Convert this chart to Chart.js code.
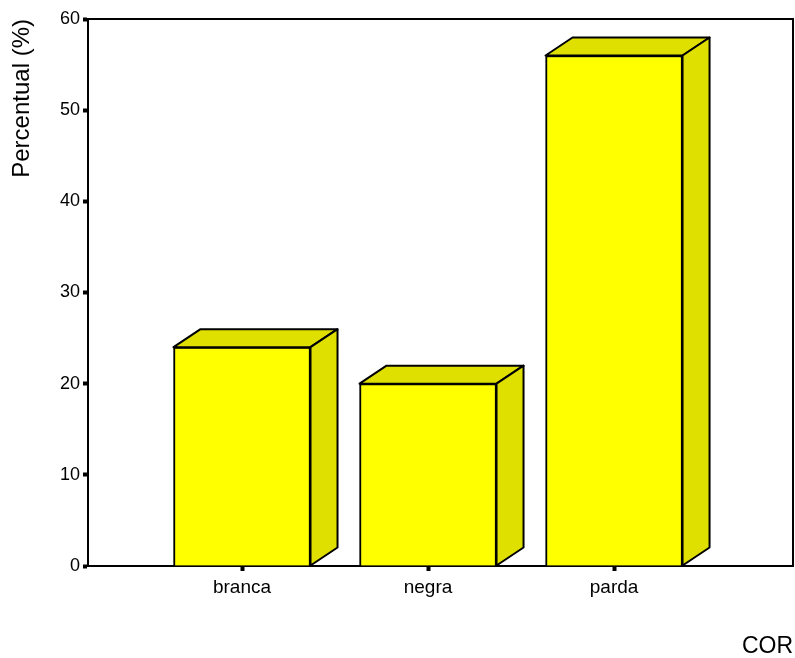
<!DOCTYPE html>
<html>
<head>
<meta charset="utf-8">
<script src="https://cdn.jsdelivr.net/npm/chart.js@4"></script>
<style>
  html, body { margin: 0; padding: 0; background: #fff; }
  #wrap { width: 795px; height: 658px; }
</style>
</head>
<body>
<div id="wrap"><canvas id="chart"></canvas></div>
<script>
// data
const categories = ['branca', 'negra', 'parda'];
const percentValues = [24, 20, 56];
const yTicks = [0, 10, 20, 30, 40, 50, 60];

const FRONT = '#FFFF00';
const SHADE = '#E0E000';
const DEPTH_X = 27, DEPTH_Y = 18;

// draws the top and right faces of each bar
const box3d = {
    id: 'box3d',
    afterDatasetsDraw(chart) {
        const ctx = chart.ctx;
        chart.getDatasetMeta(0).data.forEach(bar => {
            const L = bar.x - bar.width / 2;
            const R = bar.x + bar.width / 2;
            const top = bar.y, base = bar.base;
            ctx.save();
            ctx.fillStyle = SHADE;
            ctx.strokeStyle = '#000';
            ctx.lineWidth = 2;
            ctx.lineJoin = 'round';
            // top face
            ctx.beginPath();
            ctx.moveTo(L, top);
            ctx.lineTo(L + DEPTH_X, top - DEPTH_Y);
            ctx.lineTo(R + DEPTH_X, top - DEPTH_Y);
            ctx.lineTo(R, top);
            ctx.closePath();
            ctx.fill();
            ctx.stroke();
            // side face
            ctx.beginPath();
            ctx.moveTo(R, top);
            ctx.lineTo(R + DEPTH_X, top - DEPTH_Y);
            ctx.lineTo(R + DEPTH_X, base - DEPTH_Y);
            ctx.lineTo(R, base);
            ctx.closePath();
            ctx.fill();
            ctx.stroke();
            ctx.restore();
        });
    }
};

// frame round the plot area
const frame = {
    id: 'frame',
    beforeDatasetsDraw(chart) {
        const {ctx, chartArea: a} = chart;
        ctx.save();
        ctx.strokeStyle = '#000';
        ctx.lineWidth = 2;
        ctx.strokeRect(a.left, a.top, a.right - a.left, a.bottom - a.top);
        ctx.restore();
    }
};

const font = 'Liberation Sans, Arial, sans-serif';

new Chart(document.getElementById('chart'), {
    type: 'bar',
    data: {
        datasets: [{
            data: categories.map((c, i) => ({x: i + 1, y: percentValues[i]})),
            backgroundColor: FRONT,
            borderColor: '#000',
            borderWidth: 2,
            barThickness: 137
        }]
    },
    options: {
        responsive: true,
        maintainAspectRatio: false,
        animation: false,
        layout: {padding: {top: 19, right: 2, left: 0, bottom: 0}},
        plugins: {legend: {display: false}, tooltip: {enabled: false}},
        scales: {
            x: {
                type: 'linear',
                offset: false,
                min: 0.172,
                max: 3.962,
                afterFit: s => { s.height = 92; },
                grid: {offset: false, drawOnChartArea: false, tickLength: 5, tickWidth: 4, tickColor: '#000'},
                border: {display: true, color: '#000', width: 2},
                ticks: {
                    stepSize: 1,
                    includeBounds: false,
                    padding: 5,
                    color: '#000',
                    font: {family: font, size: 19},
                    callback: v => categories[v - 1] ?? ''
                },
                title: {
                    display: true,
                    text: 'COR',
                    align: 'end',
                    color: '#000',
                    font: {family: font, size: 23, lineHeight: 1},
                    padding: {top: 0, bottom: 0}
                }
            },
            y: {
                min: yTicks[0],
                max: yTicks[yTicks.length - 1],
                afterFit: s => { s.width = 88; },
                afterBuildTicks: s => { s.ticks = yTicks.map(v => ({value: v})); },
                grid: {drawOnChartArea: false, tickLength: 5, tickWidth: 4, tickColor: '#000'},
                border: {display: true, color: '#000', width: 2},
                ticks: {
                    padding: 3,
                    color: '#000',
                    font: {family: font, size: 18}
                },
                title: {
                    display: true,
                    text: 'Percentual (%)',
                    align: 'end',
                    color: '#000',
                    font: {family: font, size: 24, lineHeight: 1},
                    padding: {top: 10, bottom: 0}
                }
            }
        }
    },
    plugins: [frame, box3d]
});
</script>
</body>
</html>
